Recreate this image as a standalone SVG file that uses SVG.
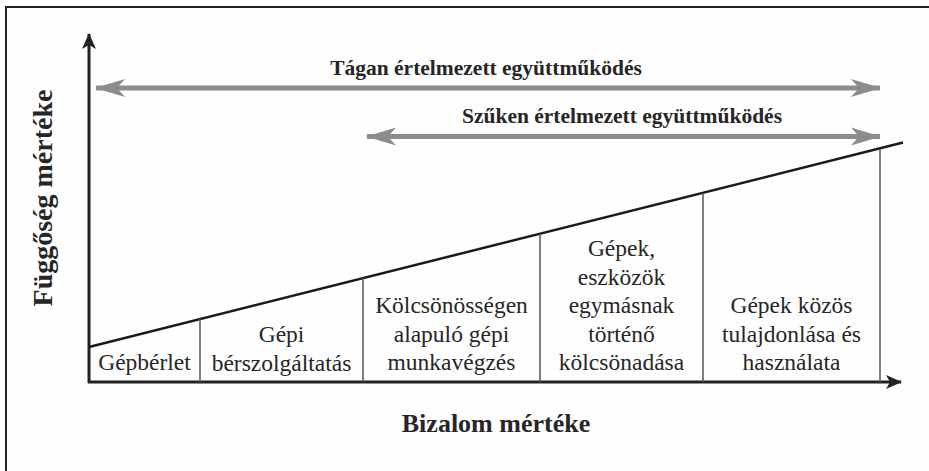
<svg xmlns="http://www.w3.org/2000/svg" width="929" height="471" viewBox="0 0 929 471">
<style>
text{font-family:"Liberation Serif","Times New Roman",serif;fill:#262626}
.t{font-size:23.5px;text-anchor:middle}
.b{font-weight:bold;text-anchor:middle}
.ax{stroke:#222;stroke-width:3;fill:none}
.sep{stroke:#555;stroke-width:1.5;fill:none}
.ga{stroke:#8c8c8c;stroke-width:5;fill:none}
</style>
<defs>
<marker id="ah" viewBox="0 0 16 14" refX="15" refY="7" markerWidth="16" markerHeight="14" markerUnits="userSpaceOnUse" orient="auto">
<path d="M0,0 L16,7 L0,14 L4,7 Z" fill="#222"/>
</marker>
<marker id="gh" viewBox="0 0 30 20" refX="29" refY="10" markerWidth="30" markerHeight="20" markerUnits="userSpaceOnUse" orient="auto-start-reverse">
<path d="M0,1 L30,10 L0,19 L8,10 Z" fill="#8c8c8c"/>
</marker>
</defs>
<rect x="6" y="7" width="1000" height="1000" fill="#fefefe" stroke="#222" stroke-width="2"/>
<g id="connectors">
<line class="ax" x1="89" y1="383" x2="89" y2="34" marker-end="url(#ah)"/>
<line class="ax" x1="88" y1="382" x2="901" y2="382" marker-end="url(#ah)"/>
<line x1="89" y1="347" x2="903" y2="142.5" stroke="#1a1a1a" stroke-width="2.5"/>
<line class="sep" x1="200" y1="319" x2="200" y2="382"/>
<line class="sep" x1="363" y1="278" x2="363" y2="382"/>
<line class="sep" x1="540" y1="234" x2="540" y2="382"/>
<line class="sep" x1="703" y1="193" x2="703" y2="382"/>
<line class="sep" x1="880" y1="149" x2="880" y2="382"/>
<line class="ga" x1="96" y1="88" x2="880" y2="88" marker-start="url(#gh)" marker-end="url(#gh)"/>
<line class="ga" x1="367" y1="136.5" x2="880" y2="136.5" marker-start="url(#gh)" marker-end="url(#gh)"/>
</g>
<g id="label-tagan"><text class="b" x="486" y="75" font-size="21.5">Tágan értelmezett együttműködés</text></g>
<g id="label-szuken"><text class="b" x="622" y="123" font-size="21.5">Szűken értelmezett együttműködés</text></g>
<g id="label-y"><text class="b" x="0" y="0" font-size="28" transform="translate(52,198) rotate(-90)">Függőség mértéke</text></g>
<g id="label-x"><text class="b" x="496" y="432" font-size="26">Bizalom mértéke</text></g>
<g id="cell1"><text class="t" x="144.5" y="370">Gépbérlet</text></g>
<g id="cell2"><text class="t" x="281.5" y="342"><tspan x="281.5">Gépi</tspan><tspan x="281.5" dy="28.5">bérszolgáltatás</tspan></text></g>
<g id="cell3"><text class="t" x="451.5" y="313"><tspan x="451.5">Kölcsönösségen</tspan><tspan x="451.5" dy="28.5">alapuló gépi</tspan><tspan x="451.5" dy="28.5">munkavégzés</tspan></text></g>
<g id="cell4"><text class="t" x="621.5" y="256"><tspan x="621.5">Gépek,</tspan><tspan x="621.5" dy="28.5">eszközök</tspan><tspan x="621.5" dy="28.5">egymásnak</tspan><tspan x="621.5" dy="28.5">történő</tspan><tspan x="621.5" dy="28.5">kölcsönadása</tspan></text></g>
<g id="cell5"><text class="t" x="791.5" y="313"><tspan x="791.5">Gépek közös</tspan><tspan x="791.5" dy="28.5">tulajdonlása és</tspan><tspan x="791.5" dy="28.5">használata</tspan></text></g>
</svg>
